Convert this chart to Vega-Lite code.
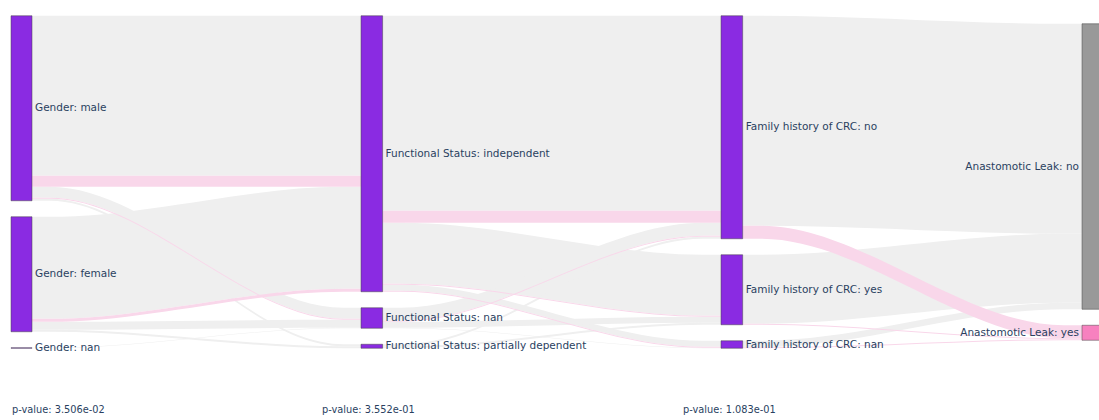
{
  "$schema": "https://vega.github.io/schema/vega-lite/v6.json",
  "width": 1099,
  "height": 420,
  "padding": 0,
  "autosize": "none",
  "background": "#ffffff",
  "config": {"view": {"stroke": null}, "text": {"font": "DejaVu Sans", "fill": "#2a3f5f"}},
  "params": [
    {"name": "pad", "value": 32},
    {"name": "span", "value": 728},
    {"name": "nodeW", "value": 0.06},
    {"name": "flat", "value": 0.05}
  ],
  "datasets": {
    "links": [
      {"stage": 0, "source": "Gender: male", "target": "Functional Status: independent", "leak": "no", "value": 320},
      {"stage": 0, "source": "Gender: male", "target": "Functional Status: independent", "leak": "yes", "value": 22},
      {"stage": 0, "source": "Gender: male", "target": "Functional Status: nan", "leak": "no", "value": 22},
      {"stage": 0, "source": "Gender: male", "target": "Functional Status: nan", "leak": "yes", "value": 2},
      {"stage": 0, "source": "Gender: male", "target": "Functional Status: partially dependent", "leak": "no", "value": 4},
      {"stage": 0, "source": "Gender: female", "target": "Functional Status: independent", "leak": "no", "value": 204},
      {"stage": 0, "source": "Gender: female", "target": "Functional Status: independent", "leak": "yes", "value": 6},
      {"stage": 0, "source": "Gender: female", "target": "Functional Status: nan", "leak": "no", "value": 16},
      {"stage": 0, "source": "Gender: female", "target": "Functional Status: partially dependent", "leak": "no", "value": 4},
      {"stage": 0, "source": "Gender: nan", "target": "Functional Status: nan", "leak": "no", "value": 1},
      {"stage": 1, "source": "Functional Status: independent", "target": "Family history of CRC: no", "leak": "no", "value": 390},
      {"stage": 1, "source": "Functional Status: independent", "target": "Family history of CRC: no", "leak": "yes", "value": 24},
      {"stage": 1, "source": "Functional Status: independent", "target": "Family history of CRC: yes", "leak": "no", "value": 122},
      {"stage": 1, "source": "Functional Status: independent", "target": "Family history of CRC: yes", "leak": "yes", "value": 2},
      {"stage": 1, "source": "Functional Status: independent", "target": "Family history of CRC: nan", "leak": "no", "value": 12},
      {"stage": 1, "source": "Functional Status: independent", "target": "Family history of CRC: nan", "leak": "yes", "value": 2},
      {"stage": 1, "source": "Functional Status: nan", "target": "Family history of CRC: no", "leak": "no", "value": 26},
      {"stage": 1, "source": "Functional Status: nan", "target": "Family history of CRC: no", "leak": "yes", "value": 2},
      {"stage": 1, "source": "Functional Status: nan", "target": "Family history of CRC: yes", "leak": "no", "value": 12},
      {"stage": 1, "source": "Functional Status: nan", "target": "Family history of CRC: nan", "leak": "no", "value": 1},
      {"stage": 1, "source": "Functional Status: partially dependent", "target": "Family history of CRC: no", "leak": "no", "value": 4},
      {"stage": 1, "source": "Functional Status: partially dependent", "target": "Family history of CRC: yes", "leak": "no", "value": 4},
      {"stage": 2, "source": "Family history of CRC: no", "target": "Anastomotic Leak: no", "leak": "no", "value": 420},
      {"stage": 2, "source": "Family history of CRC: no", "target": "Anastomotic Leak: yes", "leak": "yes", "value": 26},
      {"stage": 2, "source": "Family history of CRC: yes", "target": "Anastomotic Leak: no", "leak": "no", "value": 138},
      {"stage": 2, "source": "Family history of CRC: yes", "target": "Anastomotic Leak: yes", "leak": "yes", "value": 2},
      {"stage": 2, "source": "Family history of CRC: nan", "target": "Anastomotic Leak: no", "leak": "no", "value": 13},
      {"stage": 2, "source": "Family history of CRC: nan", "target": "Anastomotic Leak: yes", "leak": "yes", "value": 2}
    ],
    "tests": [
      {"stage": 0, "label": "p-value: 3.506e-02"},
      {"stage": 1, "label": "p-value: 3.552e-01"},
      {"stage": 2, "label": "p-value: 1.083e-01"}
    ]
  },
  "layer": [
    {
      "data": {"name": "links"},
      "transform": [
        {"joinaggregate": [{"op": "sum", "field": "value", "as": "srcVal"}], "groupby": ["stage", "source"]},
        {"joinaggregate": [{"op": "sum", "field": "value", "as": "tgtVal"}], "groupby": ["stage", "target"]},
        {"joinaggregate": [{"op": "sum", "field": "value", "as": "colTot"}], "groupby": ["stage"]},
        {"window": [{"op": "sum", "field": "value", "as": "cumS"}], "groupby": ["stage"], "sort": [{"field": "srcVal", "order": "descending"}, {"field": "tgtVal", "order": "descending"}, {"field": "leak", "order": "ascending"}], "frame": [null, 0]},
        {"window": [{"op": "dense_rank", "as": "srcRank"}], "groupby": ["stage"], "sort": [{"field": "srcVal", "order": "descending"}]},
        {"window": [{"op": "sum", "field": "value", "as": "cumT"}], "groupby": ["stage"], "sort": [{"field": "tgtVal", "order": "descending"}, {"field": "srcVal", "order": "descending"}, {"field": "leak", "order": "ascending"}], "frame": [null, 0]},
        {"window": [{"op": "dense_rank", "as": "tgtRank"}], "groupby": ["stage"], "sort": [{"field": "tgtVal", "order": "descending"}]},
        {"joinaggregate": [{"op": "max", "field": "srcRank", "as": "nSrc"}, {"op": "max", "field": "tgtRank", "as": "nTgt"}], "groupby": ["stage"]},
        {"calculate": "(span - (datum.colTot + (datum.nSrc - 1) * pad)) / 2 + (datum.srcRank - 1) * pad + datum.cumS - datum.value", "as": "sy0"},
        {"calculate": "datum.sy0 + datum.value", "as": "sy1"},
        {"calculate": "(span - (datum.colTot + (datum.nTgt - 1) * pad)) / 2 + (datum.tgtRank - 1) * pad + datum.cumT - datum.value", "as": "ty0"},
        {"calculate": "datum.ty0 + datum.value", "as": "ty1"}
      ],
      "layer": [
        {
          "transform": [
            {"calculate": "datum.stage + nodeW", "as": "p0"},
            {"calculate": "datum.stage + nodeW + flat", "as": "p1"},
            {"calculate": "datum.stage + 1 - flat", "as": "p2"},
            {"calculate": "datum.stage + 1", "as": "p3"},
            {"calculate": "datum.stage + '|' + datum.source + '|' + datum.target + '|' + datum.leak", "as": "link"},
            {"fold": ["p0", "p1", "p2", "p3"], "as": ["pt", "px"]},
            {"calculate": "datum.pt == 'p0' || datum.pt == 'p1' ? datum.sy0 : datum.ty0", "as": "top"},
            {"calculate": "datum.pt == 'p0' || datum.pt == 'p1' ? datum.sy1 : datum.ty1", "as": "bottom"}
          ],
          "layer": [
            {
              "transform": [{"filter": "datum.leak == 'no'"}],
              "mark": {"type": "area", "interpolate": "monotone", "orient": "vertical", "opacity": 1},
              "encoding": {
                "x": {"field": "px", "type": "quantitative", "scale": {"domain": [0, 1, 2, 3], "range": [11, 361, 721, 1082], "nice": false, "zero": false}, "axis": null},
                "y": {"field": "top", "type": "quantitative", "scale": {"domain": [0, 840], "reverse": true, "nice": false, "zero": false}, "axis": null},
                "y2": {"field": "bottom"},
                "detail": {"field": "link"},
                "fill": {"field": "leak", "type": "nominal", "scale": {"domain": ["no", "yes"], "range": ["#efefef", "#f9d7ea"]}, "legend": null}
              }
            },
            {
              "transform": [{"filter": "datum.leak == 'yes'"}],
              "mark": {"type": "area", "interpolate": "monotone", "orient": "vertical", "opacity": 1},
              "encoding": {
                "x": {"field": "px", "type": "quantitative", "axis": null},
                "y": {"field": "top", "type": "quantitative", "axis": null},
                "y2": {"field": "bottom"},
                "detail": {"field": "link"},
                "fill": {"field": "leak", "type": "nominal", "legend": null}
              }
            }
          ]
        },
        {
          "transform": [
            {"fold": ["source", "target"], "as": ["end", "node"]},
            {"calculate": "datum.end == 'source' ? datum.stage : datum.stage + 1", "as": "col"},
            {"calculate": "datum.end == 'source' ? datum.sy0 : datum.ty0", "as": "ny0"},
            {"calculate": "datum.end == 'source' ? datum.sy1 : datum.ty1", "as": "ny1"},
            {"calculate": "datum.end == 'target' && datum.stage == 2 ? datum.leak : 'var'", "as": "kind"},
            {"aggregate": [{"op": "min", "field": "ny0", "as": "y0"}, {"op": "max", "field": "ny1", "as": "y1"}], "groupby": ["col", "node", "kind"]},
            {"calculate": "datum.col + nodeW", "as": "xr"},
            {"calculate": "(datum.y0 + datum.y1) / 2", "as": "ym"}
          ],
          "layer": [
            {
              "mark": {"type": "rect", "stroke": "#444444", "strokeWidth": 0.5, "opacity": 1},
              "encoding": {
                "x": {"field": "col", "type": "quantitative", "axis": null},
                "x2": {"field": "xr"},
                "y": {"field": "y0", "type": "quantitative", "axis": null},
                "y2": {"field": "y1"},
                "color": {"field": "kind", "type": "nominal", "scale": {"domain": ["var", "no", "yes"], "range": ["#8a2be2", "#999999", "#f781bf"]}, "legend": null}
              }
            },
            {
              "transform": [{"filter": "datum.col < 3"}],
              "mark": {"type": "text", "align": "left", "baseline": "middle", "dx": 3, "fontSize": 10.5},
              "encoding": {
                "x": {"field": "xr", "type": "quantitative", "axis": null},
                "y": {"field": "ym", "type": "quantitative", "axis": null},
                "text": {"field": "node"}
              }
            },
            {
              "transform": [{"filter": "datum.col == 3"}],
              "mark": {"type": "text", "align": "right", "baseline": "middle", "dx": -3, "fontSize": 10.5},
              "encoding": {
                "x": {"field": "col", "type": "quantitative", "axis": null},
                "y": {"field": "ym", "type": "quantitative", "axis": null},
                "text": {"field": "node"}
              }
            }
          ]
        }
      ]
    },
    {
      "data": {"name": "tests"},
      "mark": {"type": "text", "align": "left", "baseline": "middle", "fontSize": 9.8},
      "encoding": {
        "x": {"field": "stage", "type": "quantitative", "scale": {"domain": [0, 1, 2], "range": [12, 322, 683], "nice": false, "zero": false}, "axis": null},
        "y": {"datum": 820, "type": "quantitative", "scale": {"domain": [0, 840], "reverse": true, "nice": false, "zero": false}, "axis": null},
        "text": {"field": "label"}
      }
    }
  ],
  "resolve": {"scale": {"x": "independent"}}
}
